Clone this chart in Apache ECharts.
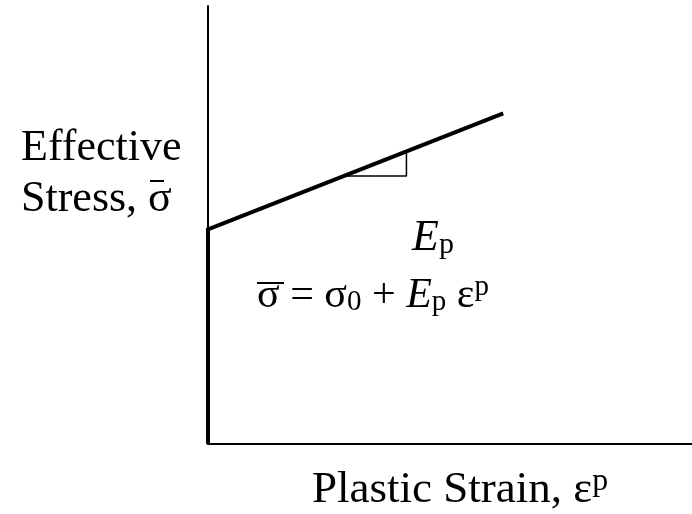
<!DOCTYPE html>
<html>
<head>
<meta charset="utf-8">
<script src="https://cdn.jsdelivr.net/npm/echarts@6/dist/echarts.min.js"></script>
<style>
  html, body { margin: 0; padding: 0; background: #fff; }
  #chart { width: 692px; height: 514px; }
</style>
</head>
<body>
<div id="chart"></div>
<script>
// Bilinear hardening model: vertical rise to the yield stress, then a straight
// line whose slope is the plastic modulus Ep.
const strainRange = [0, 10];
const stressRange = [0, 10];
const hardeningPath = [[0, 0], [0, 4.9], [6.1, 7.55]];
const slopeTriangle = [[2.8, 6.12], [4.1, 6.12], [4.1, 6.68]];

const serif = '"Liberation Serif", "Times New Roman", serif';

const chart = echarts.init(document.getElementById('chart'), null, { renderer: 'canvas' });

const axisCommon = {
  type: 'value',
  axisLine: { show: true, lineStyle: { color: '#000', width: 2 } },
  axisTick: { show: false },
  axisLabel: { show: false },
  splitLine: { show: false }
};

// short bar drawn over a sigma to mark the effective (equivalent) stress
function overbar(x1, x2, y) {
  return {
    type: 'line',
    shape: { x1: x1, y1: y, x2: x2, y2: y },
    style: { stroke: '#000', lineWidth: 2 }
  };
}

chart.setOption({
  animation: false,
  backgroundColor: '#fff',
  grid: { left: 208, right: 0, top: 6, bottom: 70 },
  xAxis: Object.assign({}, axisCommon, { min: strainRange[0], max: strainRange[1] }),
  yAxis: Object.assign({}, axisCommon, { min: stressRange[0], max: stressRange[1] }),
  series: [
    {
      type: 'line',
      data: hardeningPath,
      symbol: 'none',
      lineStyle: { color: '#000', width: 4, cap: 'butt', join: 'miter' }
    },
    {
      type: 'line',
      data: slopeTriangle,
      symbol: 'none',
      lineStyle: { color: '#000', width: 1.5 }
    }
  ],
  graphic: [
    {
      type: 'text',
      left: 21, top: 123,
      style: {
        text: 'Effective\nStress, σ',
        font: '44px ' + serif,
        lineHeight: 51,
        fill: '#000'
      }
    },
    overbar(150, 164, 181),
    {
      type: 'text',
      left: 412, top: 216,
      style: {
        text: '{e|E}{s|p}',
        fill: '#000',
        rich: {
          e: { font: 'italic 44px ' + serif, lineHeight: 46, verticalAlign: 'bottom' },
          s: { font: '30px ' + serif, lineHeight: 14, verticalAlign: 'bottom' }
        }
      }
    },
    {
      type: 'text',
      left: 257, top: 273,
      style: {
        text: '{m|σ = σ}{s|0}{m| + }{e|E}{s|p}{m| ε}{u|p}',
        fill: '#000',
        rich: {
          m: { font: '42px ' + serif, lineHeight: 44, verticalAlign: 'bottom' },
          e: { font: 'italic 42px ' + serif, lineHeight: 44, verticalAlign: 'bottom' },
          s: { font: '29px ' + serif, lineHeight: 14, verticalAlign: 'bottom' },
          u: { font: '29px ' + serif, lineHeight: 29, verticalAlign: 'top' }
        }
      }
    },
    overbar(257, 284, 283),
    {
      type: 'text',
      left: 312, top: 466,
      style: {
        text: '{m|Plastic Strain, ε}{u|p}',
        fill: '#000',
        rich: {
          m: { font: '45px ' + serif, lineHeight: 47, verticalAlign: 'bottom' },
          u: { font: '32px ' + serif, lineHeight: 32, verticalAlign: 'top' }
        }
      }
    }
  ]
});
</script>
</body>
</html>
